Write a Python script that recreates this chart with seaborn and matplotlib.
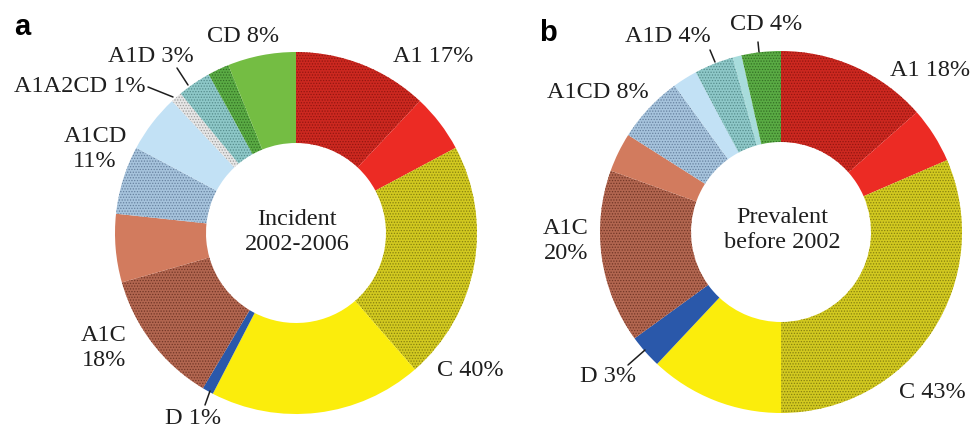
import matplotlib.pyplot as plt
import seaborn as sns

# share of each genotype group (%), every group split in a stippled and a plain part
incident_groups = ["A1", "A1", "C", "C", "D", "A1C", "A1C", "A1CD", "A1CD",
                   "A1A2CD", "A1D", "CD", "CD"]
incident_shade = ["dot", "plain", "dot", "plain", "plain", "dot", "plain", "dot", "plain",
                  "dot", "dot", "dot", "plain"]
incident_values = [12, 5.2, 21.4, 19, 1, 12, 6.1, 6.1, 5.2, 1, 3, 1.9, 6.1]

prevalent_groups = ["A1", "A1", "C", "C", "D", "A1C", "A1C", "A1CD", "A1CD",
                    "A1D", "A1D", "CD"]
prevalent_shade = ["dot", "plain", "dot", "plain", "plain", "dot", "plain", "dot", "plain",
                   "dot", "plain", "dot"]
prevalent_values = [13.5, 5, 31.5, 12, 3, 15.5, 3.5, 6, 2.2, 3.5, 0.8, 3.5]

incident_labels = ["A1 17%", "C 40%", "D 1%", "A1C\n18%", "A1CD\n11%",
                   "A1A2CD 1%", "A1D 3%", "CD 8%"]
prevalent_labels = ["A1 18%", "C 43%", "D 3%", "A1C\n20%", "A1CD 8%", "A1D 4%", "CD 4%"]

# (face colour, stipple colour) per group and shade
colours = {
    ("A1", "dot"): ("#cc2820", "#921610"),
    ("A1", "plain"): ("#ec2b24", None),
    ("C", "dot"): ("#d2c920", "#86800e"),
    ("C", "plain"): ("#fbed0c", None),
    ("D", "plain"): ("#2a58aa", None),
    ("A1C", "dot"): ("#b26650", "#713626"),
    ("A1C", "plain"): ("#d27b5e", None),
    ("A1CD", "dot"): ("#a6c3dc", "#66819f"),
    ("A1CD", "plain"): ("#c2e1f5", None),
    ("A1A2CD", "dot"): ("#e6e6e6", "#9c9c9c"),
    ("A1D", "dot"): ("#8ec8c8", "#558c8c"),
    ("A1D", "plain"): ("#a8dcdc", None),
    ("CD", "dot"): ("#5aab44", "#336f24"),
    ("CD", "plain"): ("#74bd43", None),
}

sns.set_theme(style="white")
plt.rcParams["font.family"] = ["Liberation Serif", "DejaVu Serif"]
plt.rcParams["hatch.linewidth"] = 0.6
text_col = "#1e1e1e"
W, H = 972, 430

fig = plt.figure(figsize=(W / 100, H / 100), dpi=100)
ax = fig.add_axes([0, 0, 1, 1])


def donut(values, groups, shades, centre):
    faces = [colours[(g, s)][0] for g, s in zip(groups, shades)]
    hatches = ["......" if s == "dot" else None for s in shades]
    wedges, _ = ax.pie(values, colors=faces, hatch=hatches, startangle=-90,
                       counterclock=True, radius=181, center=centre,
                       wedgeprops=dict(width=91, linewidth=0))
    for w, g, s in zip(wedges, groups, shades):
        dot = colours[(g, s)][1]
        if dot:
            w.set_edgecolor(dot)
        w.set_linewidth(0)
    return wedges


donut(incident_values, incident_groups, incident_shade, (296, 233))
donut(prevalent_values, prevalent_groups, prevalent_shade, (781, 232))

ax.set_xlim(0, W)
ax.set_ylim(H, 0)
ax.set_aspect("equal")
ax.axis("off")

fs = 17.5
kw = dict(fontsize=fs, color=text_col, ha="center", va="center", linespacing=1.28)

# panel a labels
spots_a = [(433, 57), (470, 371), (193, 418), (104, 348), (95, 149),
           (80, 86), (151, 56), (243, 37)]
for lab, (x, y) in zip(incident_labels, spots_a):
    ax.text(x, y, lab, **kw)
ax.text(297, 232, "Incident\n2002-2006", **kw)

# panel b labels
spots_b = [(930, 70), (932, 392), (608, 377), (566, 241), (598, 93),
           (668, 37), (766, 25)]
for lab, (x, y) in zip(prevalent_labels, spots_b):
    ax.text(x, y, lab, **kw)
ax.text(782, 230, "Prevalent\nbefore 2002", **kw)

# leader lines to the thin slices
leaders = [((148, 87), (173, 97)), ((177, 68), (188, 85)), ((210, 391), (205, 405)),
           ((758, 42), (759, 52)), ((710, 50), (715, 62)), ((628, 365), (645, 350))]
for (x0, y0), (x1, y1) in leaders:
    ax.plot([x0, x1], [y0, y1], color=text_col, lw=1.1)

ax.text(22, 27, "a", fontsize=21, fontweight="bold", family="Liberation Sans",
        ha="center", va="center", color="black")
ax.text(548, 33, "b", fontsize=21, fontweight="bold", family="Liberation Sans",
        ha="center", va="center", color="black")

plt.savefig("out.png", dpi=100)
